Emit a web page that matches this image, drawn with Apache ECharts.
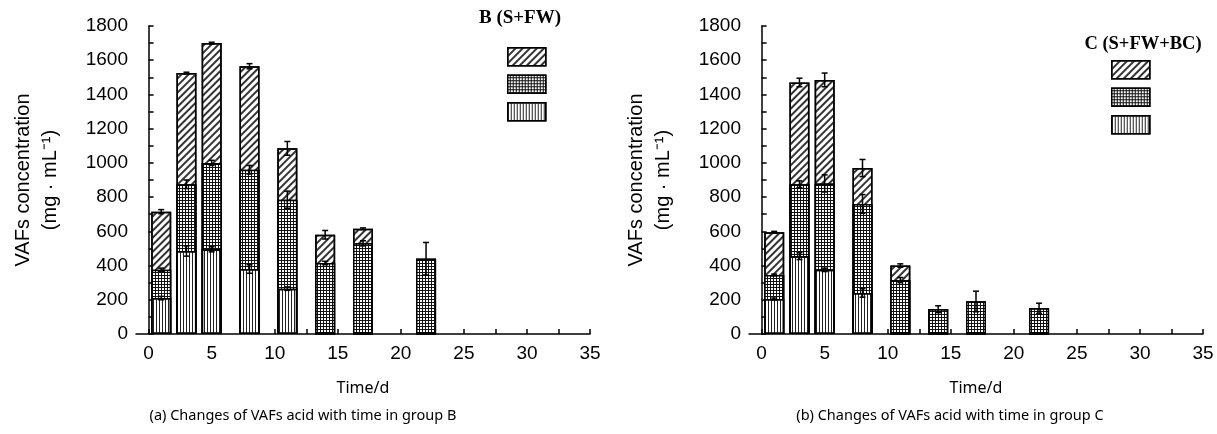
<!DOCTYPE html>
<html>
<head>
<meta charset="utf-8">
<script src="https://cdn.jsdelivr.net/npm/echarts@6/dist/echarts.min.js"></script>
<style>
  html, body { margin: 0; padding: 0; background: #fff; }
  #chart { width: 1217px; height: 434px; }
</style>
</head>
<body>
<div id="chart"></div>
<script>
// sampling days
const days = [1, 3, 5, 8, 11, 14, 17, 22]

// group B (S+FW): segment heights, bottom -> top
const bBottom = [210, 485, 495, 380, 265, 0, 0, 0]
const bMiddle = [165, 390, 505, 580, 520, 415, 530, 440]
const bTop = [340, 650, 700, 605, 300, 165, 85, 0]
const bBottomErr = [10, 30, 15, 25, 10, 0, 0, 0]
const bMiddleErr = [10, 25, 15, 25, 50, 10, 15, 95]
const bTopErr = [12, 5, 5, 15, 40, 25, 5, 0]

// group C (S+FW+BC)
const cBottom = [205, 455, 375, 240, 0, 0, 0, 0]
const cMiddle = [140, 420, 505, 520, 315, 145, 190, 150]
const cTop = [250, 595, 605, 210, 85, 0, 0, 0]
const cBottomErr = [5, 20, 10, 25, 0, 0, 0, 0]
const cMiddleErr = [5, 20, 50, 55, 15, 20, 60, 30]
const cTopErr = [5, 25, 40, 50, 10, 0, 0, 0]

const xLabels = [0, 5, 10, 15, 20, 25, 30, 35]
const xTicks = [0, 2.5, 5, 7.5, 10, 12.5, 15, 17.5, 20, 22.5, 25, 27.5, 30, 32.5, 35]

const chart = echarts.init(document.getElementById('chart'))

// fill patterns
const hatchStyle = {
  color: '#fff',
  borderColor: '#000',
  borderWidth: 1.5,
  decal: { color: '#333', symbol: 'rect', symbolSize: 1, dashArrayX: [1, 0], dashArrayY: [1.2, 2.8], rotation: -Math.PI / 4 }
}
const gridStyle = {
  color: '#111',
  borderColor: '#000',
  borderWidth: 1.5,
  decal: { color: '#fff', symbol: 'rect', symbolSize: 1, dashArrayX: [2, 1], dashArrayY: [2, 1] }
}
const lineStyle = {
  color: '#fff',
  borderColor: '#000',
  borderWidth: 1.5,
  decal: { color: '#222', symbol: 'rect', symbolSize: 1, dashArrayX: [1, 2], dashArrayY: [1, 0] }
}

const axisFont = { fontFamily: 'Liberation Sans', fontSize: 19, color: '#000' }

const makeX = (gridIndex) => ({
  type: 'value',
  gridIndex,
  min: -1,
  max: 35,
  name: 'Time/d',
  nameLocation: 'middle',
  nameGap: 46,
  nameTextStyle: { fontFamily: 'Noto Sans', fontSize: 16, color: '#000' },
  splitLine: { show: false },
  axisLine: { lineStyle: { color: '#000', width: 1.5 } },
  axisTick: { inside: true, length: 5, customValues: xTicks, lineStyle: { color: '#000', width: 1.5 } },
  axisLabel: { ...axisFont, margin: 10, customValues: xLabels }
})

const makeY = (gridIndex) => ({
  type: 'value',
  gridIndex,
  min: 0,
  max: 1800,
  interval: 100,
  name: 'VAFs concentration\n(mg · mL⁻¹)',
  nameLocation: 'middle',
  nameRotate: 90,
  nameGap: 72,
  nameTextStyle: { fontFamily: 'Liberation Sans', fontSize: 20, color: '#000', lineHeight: 27 },
  splitLine: { show: false },
  axisLine: { show: true, lineStyle: { color: '#000', width: 1.5 } },
  axisTick: { inside: true, length: 5, lineStyle: { color: '#000', width: 1.5 } },
  axisLabel: { ...axisFont, margin: 8, formatter: (v) => (v % 200 === 0 ? String(v) : '') }
})

// stacked look: each series draws the running total, drawn top layer first
const cumulative = (segments, upto) => days.map((d, i) => {
  let s = 0
  for (let k = 0; k <= upto; k++) s += segments[k][i]
  return [d, s]
})

const barSeries = (name, segments, upto, style, idx) => ({
  name,
  type: 'bar',
  xAxisIndex: idx,
  yAxisIndex: idx,
  barWidth: 20,
  barGap: '-100%',
  z: 2 + (2 - upto) * 0.1,
  itemStyle: style,
  data: cumulative(segments, upto)
})

// error bars on top of each stacked segment
const errorSeries = (segments, errs, idx) => {
  const pts = []
  days.forEach((d, i) => {
    let acc = 0
    segments.forEach((seg, k) => {
      acc += seg[i]
      if (seg[i] > 0 && errs[k][i] > 0) pts.push([d, acc, errs[k][i]])
    })
  })
  return {
    type: 'custom',
    xAxisIndex: idx,
    yAxisIndex: idx,
    z: 5,
    silent: true,
    data: pts,
    renderItem: (params, api) => {
      const x = api.value(0)
      const y = api.value(1)
      const e = api.value(2)
      const hi = api.coord([x, y + e])
      const lo = api.coord([x, y - e])
      const st = { stroke: '#000', lineWidth: 1.5 }
      return {
        type: 'group',
        children: [
          { type: 'line', shape: { x1: hi[0], y1: hi[1], x2: lo[0], y2: lo[1] }, style: st },
          { type: 'line', shape: { x1: hi[0] - 3, y1: hi[1], x2: hi[0] + 3, y2: hi[1] }, style: st },
          { type: 'line', shape: { x1: lo[0] - 3, y1: lo[1], x2: lo[0] + 3, y2: lo[1] }, style: st }
        ]
      }
    }
  }
}

const legendBase = {
  orient: 'vertical',
  icon: 'rect',
  itemWidth: 38,
  itemHeight: 18,
  itemGap: 8,
  formatter: () => '',
  selectedMode: false,
  itemStyle: { borderColor: '#000', borderWidth: 1.5 }
}

const bSeg = [bBottom, bMiddle, bTop]
const cSeg = [cBottom, cMiddle, cTop]

const option = {
  animation: false,
  backgroundColor: '#fff',
  grid: [
    { left: 136, top: 26, width: 454, height: 308 },
    { left: 749, top: 26, width: 454, height: 308 }
  ],
  xAxis: [makeX(0), makeX(1)],
  yAxis: [makeY(0), makeY(1)],
  legend: [
    { ...legendBase, left: 502, top: 42, data: ['B3', 'B2', 'B1'] },
    { ...legendBase, left: 1106, top: 55, data: ['C3', 'C2', 'C1'] }
  ],
  graphic: [
    { type: 'text', x: 520, y: 18, style: { text: 'B (S+FW)', font: 'bold 19px "Liberation Serif"', fill: '#000', align: 'center', verticalAlign: 'middle' } },
    { type: 'text', x: 1143, y: 44, style: { text: 'C (S+FW+BC)', font: 'bold 18.5px "Liberation Serif"', fill: '#000', align: 'center', verticalAlign: 'middle' } },
    { type: 'text', x: 303, y: 416, style: { text: '(a) Changes of VAFs acid with time in group B', font: '14.5px "Noto Sans"', fill: '#000', align: 'center', verticalAlign: 'middle' } },
    { type: 'text', x: 950, y: 416, style: { text: '(b) Changes of VAFs acid with time in group C', font: '14.5px "Noto Sans"', fill: '#000', align: 'center', verticalAlign: 'middle' } }
  ],
  series: [
    barSeries('B3', bSeg, 2, hatchStyle, 0),
    barSeries('B2', bSeg, 1, gridStyle, 0),
    barSeries('B1', bSeg, 0, lineStyle, 0),
    errorSeries(bSeg, [bBottomErr, bMiddleErr, bTopErr], 0),
    barSeries('C3', cSeg, 2, hatchStyle, 1),
    barSeries('C2', cSeg, 1, gridStyle, 1),
    barSeries('C1', cSeg, 0, lineStyle, 1),
    errorSeries(cSeg, [cBottomErr, cMiddleErr, cTopErr], 1)
  ]
}

chart.setOption(option)
window.addEventListener('resize', () => chart.resize())
</script>
</body>
</html>
